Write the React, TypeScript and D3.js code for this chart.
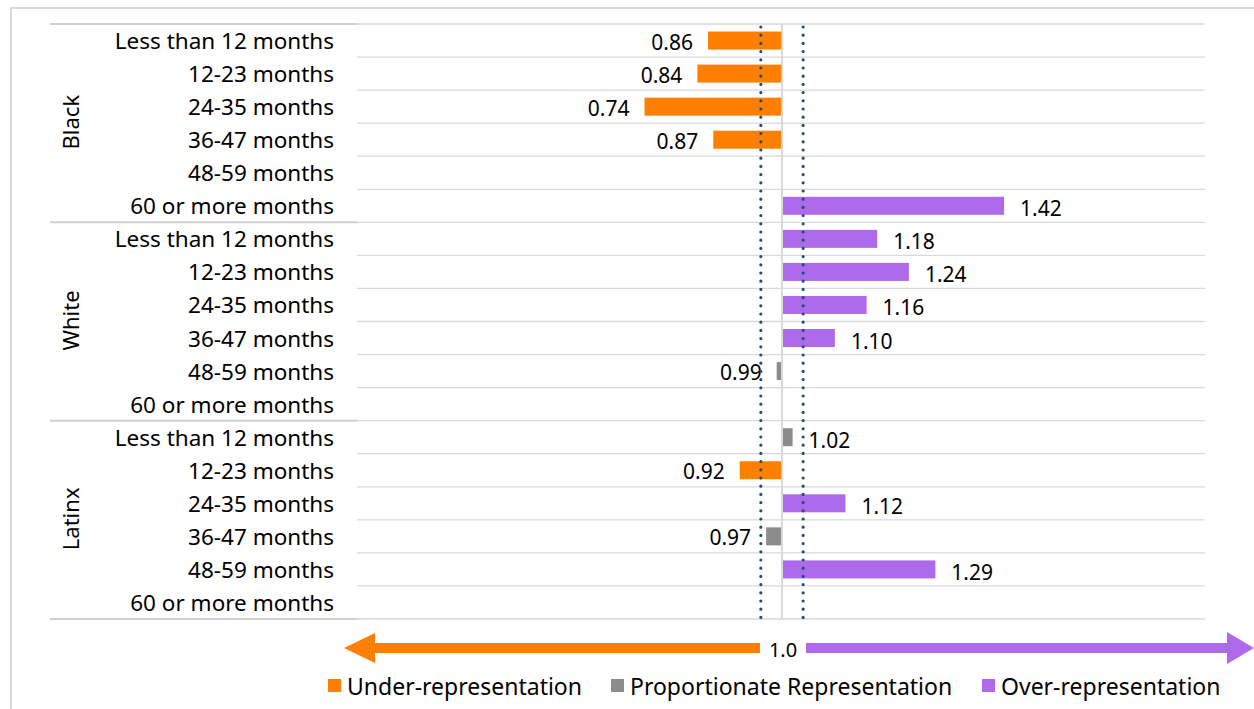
import React from "react";
import * as d3 from "d3";

const groups = ["Black", "White", "Latinx"];
const durations = [
  "Less than 12 months",
  "12-23 months",
  "24-35 months",
  "36-47 months",
  "48-59 months",
  "60 or more months",
];
// null = no bar
const blackValues: (number | null)[] = [0.86, 0.84, 0.74, 0.87, null, 1.42];
const whiteValues: (number | null)[] = [1.18, 1.24, 1.16, 1.1, 0.99, null];
const latinxValues: (number | null)[] = [1.02, 0.92, 1.12, 0.97, 1.29, null];
const seriesByGroup = [blackValues, whiteValues, latinxValues];

const thresholdLow = 0.96;
const thresholdHigh = 1.04;
const legendItems = ["Under-representation", "Proportionate Representation", "Over-representation"];

const COLORS = { under: "#FF8000", prop: "#8C8C8C", over: "#AD6AEA" };
const FONT = "'Noto Sans', 'Open Sans', sans-serif";

function classify(v: number) {
  if (v < thresholdLow) return "under";
  if (v > thresholdHigh) return "over";
  return "prop";
}

export default function App() {
  const W = 1254, H = 709;
  const plotLeft = 359, plotRight = 1205;
  const top = 24, bottom = 619;
  const x = d3.scaleLinear().domain([0.2, 1.8]).range([plotLeft, plotRight]);
  const rows = groups.flatMap((g, gi) =>
    durations.map((d, di) => ({ key: `${g}-${d}`, group: g, gi, di, label: d, value: seriesByGroup[gi][di] }))
  );
  const y = d3.scaleBand<string>().domain(rows.map((r) => r.key)).range([top, bottom]).paddingInner(0.455).paddingOuter(0.2275);
  const rowH = (bottom - top) / rows.length;
  const x1 = x(1);

  const legendX = [328, 611, 982];

  return (
    <svg width={W} height={H} style={{ position: "absolute", left: 0, top: 0, background: "#fff" }} fontFamily={FONT}>
      {/* frame */}
      <line x1={11} x2={W} y1={8} y2={8} stroke="#d9d9d9" strokeWidth={2} />
      <line x1={11} x2={11} y1={7} y2={H} stroke="#d9d9d9" strokeWidth={2} />

      {/* row gridlines */}
      {d3.range(rows.length + 1).map((i) => (
        <line key={"g" + i} x1={plotLeft - 2} x2={plotRight} y1={top + i * rowH} y2={top + i * rowH} stroke="#d9d9d9" strokeWidth={1.3} />
      ))}
      {/* row separators in label area */}
      {d3.range(rows.length + 1).map((i) =>
        i % 6 === 0 ? (
          <line key={"s" + i} x1={50} x2={plotLeft - 2} y1={top + i * rowH} y2={top + i * rowH} stroke="#d0d0d0" strokeWidth={2} />
        ) : null
      )}

      {/* bars */}
      {rows.map((r) => {
        if (r.value == null) return null;
        const v = r.value;
        const c = classify(v);
        const bx = Math.min(x(v), x1);
        const bw = Math.abs(x(v) - x1);
        const by = y(r.key)!;
        const bh = y.bandwidth();
        const cy = by + bh / 2;
        const isLeft = v < 1;
        return (
          <g key={r.key}>
            <rect x={bx} y={by} width={bw} height={bh} fill={COLORS[c as keyof typeof COLORS]} />
            <text
              x={isLeft ? x(v) - 15 : x(v) + 16}
              y={isLeft ? cy + 1 : cy + 2.5}
              textAnchor={isLeft ? "end" : "start"}
              dominantBaseline="central"
              fontSize={21}
              fill="#000"
            >
              {v.toFixed(2)}
            </text>
          </g>
        );
      })}

      {/* axis at 1.0 */}
      <line x1={x1} x2={x1} y1={top} y2={bottom} stroke="#d9d9d9" strokeWidth={2} />

      {/* threshold dotted lines */}
      {[thresholdLow, thresholdHigh].map((t) => (
        <line key={"t" + t} x1={x(t)} x2={x(t)} y1={top + 3} y2={bottom} stroke="#1F4E79" strokeWidth={3.2} strokeDasharray="0 8.2" strokeLinecap="round" />
      ))}

      {/* category labels */}
      {rows.map((r, i) => (
        <text key={"l" + r.key} x={334} y={top + (i + 0.5) * rowH} textAnchor="end" dominantBaseline="central" fontSize={22.5} fill="#000">
          {r.label}
        </text>
      ))}
      {/* group labels */}
      {groups.map((g, gi) => {
        const cy = top + (gi * 6 + 3) * rowH;
        return (
          <text key={g} transform={`translate(70,${cy - 1}) rotate(-90)`} textAnchor="middle" dominantBaseline="central" fontSize={22} fill="#000">
            {g}
          </text>
        );
      })}

      {/* bottom arrows */}
      <path d={`M344,648 L375,633 L375,643 L760,643 L760,653 L375,653 L375,663 Z`} fill={COLORS.under} />
      <path d={`M806,643 L1227,643 L1227,632 L1254,648 L1227,664 L1227,653 L806,653 Z`} fill={COLORS.over} />
      <text x={x1 + 1} y={649} textAnchor="middle" dominantBaseline="central" fontSize={20} fill="#000">1.0</text>

      {/* legend */}
      {legendItems.map((item, i) => {
        const col = [COLORS.under, COLORS.prop, COLORS.over][i];
        return (
          <g key={item}>
            <rect x={legendX[i]} y={679} width={13} height={13} fill={col} />
            <text x={legendX[i] + 19} y={686} dominantBaseline="central" fontSize={23} fill="#000">{item}</text>
          </g>
        );
      })}
    </svg>
  );
}
